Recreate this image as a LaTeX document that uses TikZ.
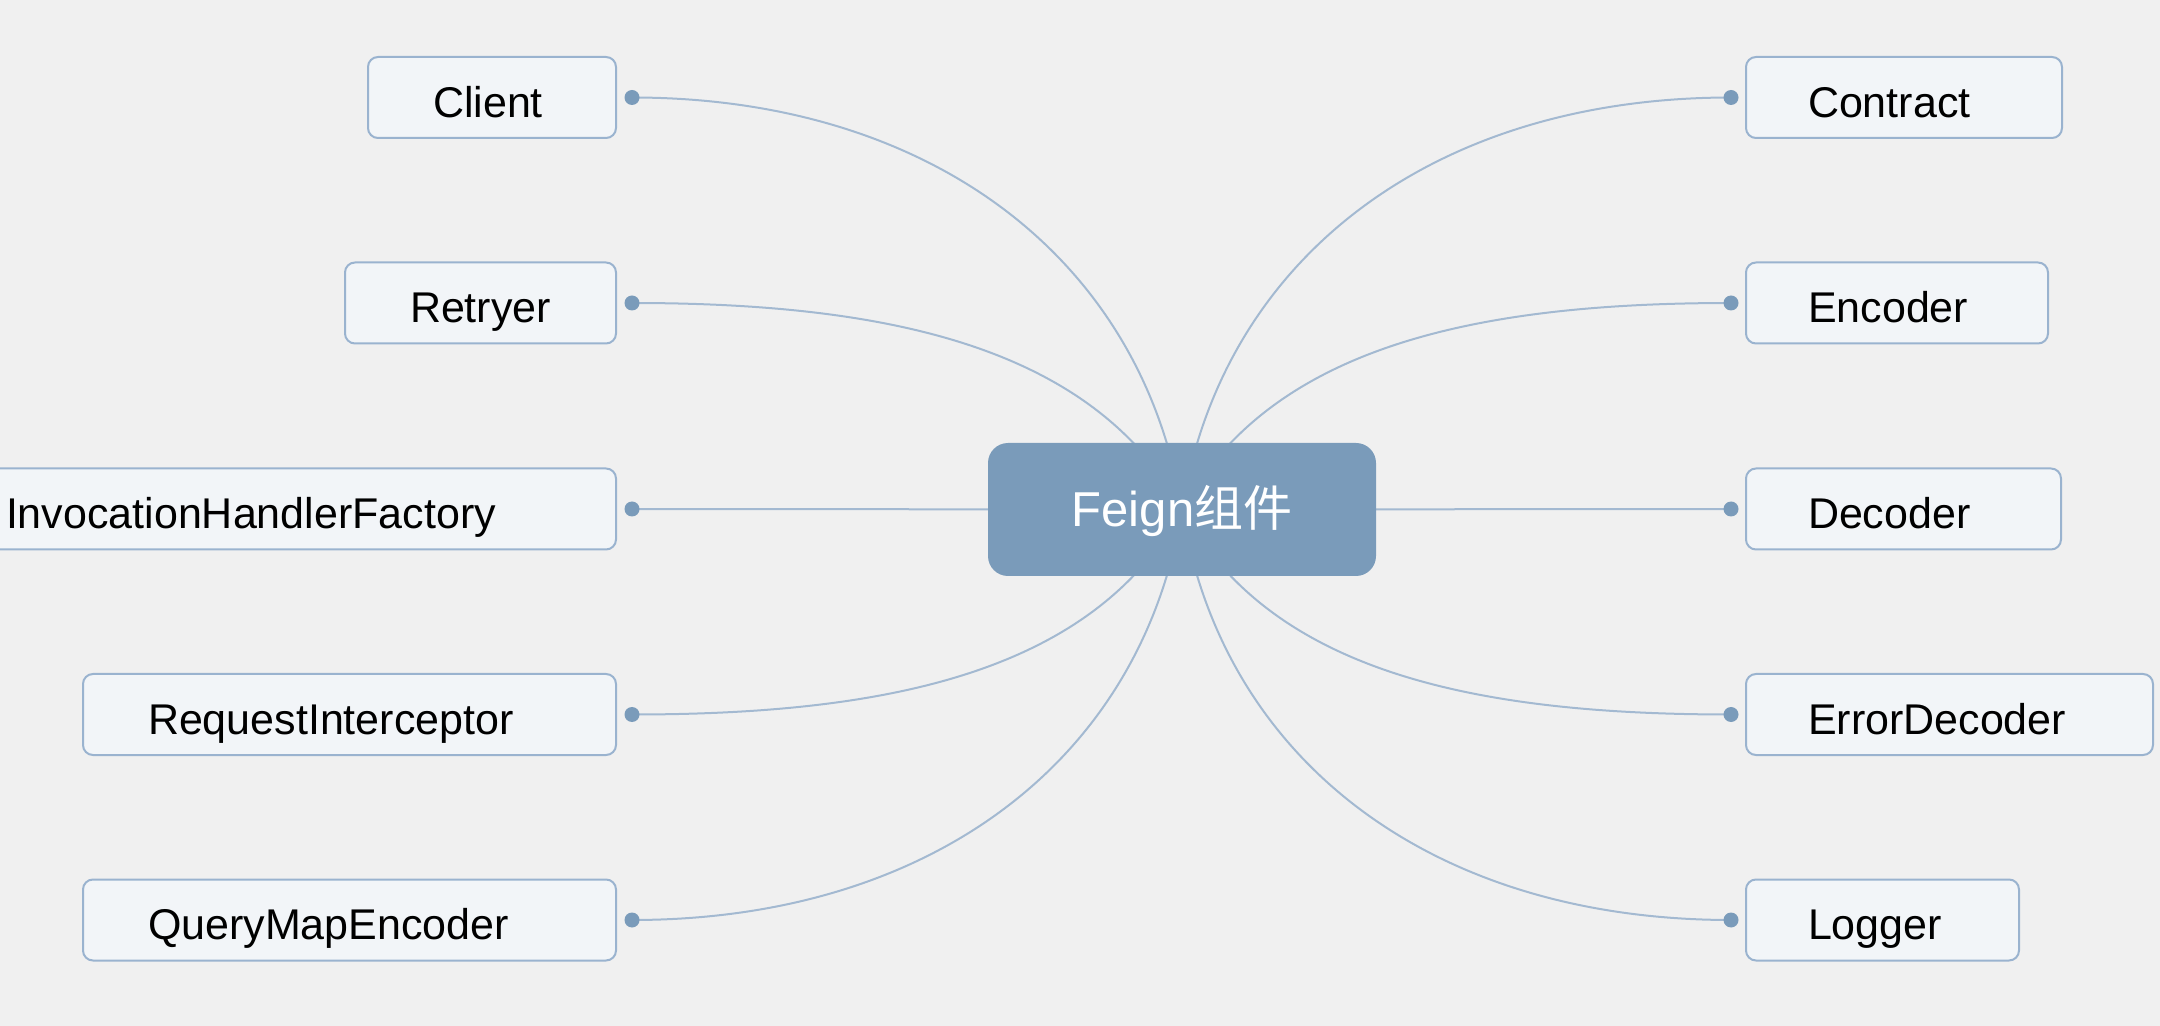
\documentclass[tikz,border=0pt]{standalone}
\usepackage{fontspec}
\setmainfont{Liberation Sans}
\newfontfamily\cjk{Noto Sans CJK SC}
\usetikzlibrary{calc}
\definecolor{FGBack}{HTML}{F0F0F0}
\definecolor{FGBoxFill}{HTML}{F2F5F8}
\definecolor{FGBoxLine}{HTML}{9AB3CF}
\definecolor{FGHub}{HTML}{7A9BBA}
\definecolor{FGLine}{HTML}{A3B9D1}
\pgfdeclarelayer{bg}
\pgfdeclarelayer{edges}
\pgfsetlayers{bg,edges,main}

\begin{document}
\begin{tikzpicture}[x=0.5pt,y=-0.5pt,font=\fontsize{21.5pt}{24pt}\selectfont,
        leaf/.style={draw=FGBoxLine,fill=FGBoxFill,line width=1pt,rounded corners=5pt,minimum height=40.5pt,inner xsep=31pt,inner ysep=0pt,text height=19.6pt,text depth=0pt,align=left},
        lleaf/.style={leaf,anchor=east,inner xsep=32.5pt},
        rleaf/.style={leaf,anchor=west},
        hub/.style={fill=FGHub,rounded corners=10pt,minimum width=194pt,minimum height=66.5pt,text height=17.5pt,text depth=0pt,text=white,font=\fontsize{24.5pt}{27pt}\selectfont},
        ln/.style={line width=1pt,color=FGLine},
        dt/.style={fill=FGHub}]
        \useasboundingbox (0,0) rectangle (2160,1026);
        \begin{pgfonlayer}{bg}\fill[FGBack] (0,0) rectangle (2160,1026);\end{pgfonlayer}
        \node[hub] (feign) at (1182,509.5) {Feign{\cjk 组件}};
        % left side
        \node[lleaf,text width=59pt] (client) at (617,97.5) {Client};
        \node[lleaf,text width=70.5pt] (retryer) at (617,303) {Retryer};
        \node[lleaf,text width=272.5pt] (ihf) at (617,509) {InvocationHandlerFactory};
        \node[lleaf,text width=201.5pt] (reqi) at (617,714.5) {RequestInterceptor};
        \node[lleaf,text width=201.5pt] (qme) at (617,920) {QueryMapEncoder};
        % right side
        \node[rleaf,text width=96pt] (contract) at (1745,97.5) {Contract};
        \node[rleaf,text width=89pt] (encoder) at (1745,303) {Encoder};
        \node[rleaf,text width=95.5pt] (decoder) at (1745,509) {Decoder};
        \node[rleaf,text width=141.5pt] (errdec) at (1745,714.5) {ErrorDecoder};
        \node[rleaf,text width=74.5pt] (logger) at (1745,920) {Logger};
        \foreach \n in {client,retryer,ihf,reqi,qme} \coordinate (\n-dot) at ([xshift=7.5pt]\n.east);
        \foreach \n in {contract,encoder,decoder,errdec,logger} \coordinate (\n-dot) at ([xshift=-7pt]\n.west);
        \begin{pgfonlayer}{edges}
        \draw[ln] (client-dot) .. controls +(300,0) and +(-40,-250) .. (feign.center);
        \draw[ln] (retryer-dot) .. controls +(250,0) and +(-90,-165) .. (feign.center);
        \draw[ln] (ihf-dot) -- (feign.center);
        \draw[ln] (reqi-dot) .. controls +(250,0) and +(-90,165) .. (feign.center);
        \draw[ln] (qme-dot) .. controls +(300,0) and +(-40,250) .. (feign.center);
        \draw[ln] (contract-dot) .. controls +(-300,0) and +(40,-250) .. (feign.center);
        \draw[ln] (encoder-dot) .. controls +(-250,0) and +(90,-165) .. (feign.center);
        \draw[ln] (decoder-dot) -- (feign.center);
        \draw[ln] (errdec-dot) .. controls +(-250,0) and +(90,165) .. (feign.center);
        \draw[ln] (logger-dot) .. controls +(-300,0) and +(40,250) .. (feign.center);
        \end{pgfonlayer}
        \foreach \n in {client,retryer,ihf,reqi,qme,contract,encoder,decoder,errdec,logger} \fill[dt] (\n-dot) circle (7.5);
      \end{tikzpicture}
\end{document}
